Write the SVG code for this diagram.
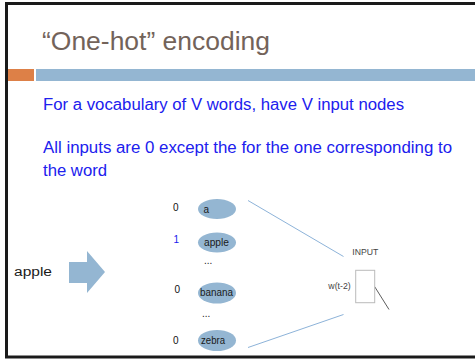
<svg xmlns="http://www.w3.org/2000/svg" width="475" height="359" viewBox="0 0 475 359">
<style>
.title{font-family:"Liberation Sans",Arial,sans-serif;font-size:26px;fill:#73635A}
.body{font-family:"Liberation Sans",Arial,sans-serif;font-size:16px;fill:#2020EE}
.lbl{font-family:"Liberation Sans",Arial,sans-serif;font-size:10px;fill:#1a1a1a}
.num{font-family:"Liberation Sans",Arial,sans-serif;font-size:10px;fill:#111}
.small{font-family:"Liberation Sans",Arial,sans-serif;font-size:9px;fill:#444}
.node{fill:#94B6D2}
.conn{stroke:#8DB3D9;stroke-width:1;fill:none}
</style>
<rect x="0" y="0" width="475" height="359" fill="#fff"/>
<rect x="6.5" y="3.5" width="480" height="353.5" fill="none" stroke="#1a1a1a" stroke-width="3"/>
<rect x="8" y="69" width="26" height="12" fill="#DD8047"/>
<rect x="36" y="69" width="440" height="12" fill="#94B6D2"/>
<text class="title" x="42" y="50" textLength="228" lengthAdjust="spacingAndGlyphs">“One-hot” encoding</text>
<text class="body" x="43" y="110" textLength="361" lengthAdjust="spacingAndGlyphs">For a vocabulary of V words, have V input nodes</text>
<text class="body" x="43" y="153" textLength="409" lengthAdjust="spacingAndGlyphs">All inputs are 0 except the for the one corresponding to</text>
<text class="body" x="43" y="176" textLength="64" lengthAdjust="spacingAndGlyphs">the word</text>
<g id="connectors">
<line class="conn" x1="248" y1="200.5" x2="343.5" y2="256.5"/>
<line class="conn" x1="248" y1="347.5" x2="343.5" y2="314.5"/>
<line x1="374.7" y1="286.7" x2="389" y2="309.5" stroke="#333" stroke-width="0.8"/>
</g>
<g id="arrow">
<polygon class="node" points="69,262 87,262 87,251 105,272 87,293 87,283 69,283"/>
</g>
<text id="apple-label" class="lbl" x="14" y="276" style="font-size:12.5px" textLength="38" lengthAdjust="spacingAndGlyphs">apple</text>
<g id="node-a">
<ellipse class="node" cx="217" cy="209" rx="19" ry="10"/>
<text class="lbl" x="203.5" y="212.5">a</text>
<text class="num" x="173" y="210.5">0</text>
</g>
<g id="node-apple">
<ellipse class="node" cx="217" cy="242.5" rx="19" ry="10"/>
<text class="lbl" x="204" y="245.5" textLength="25" lengthAdjust="spacingAndGlyphs">apple</text>
<text class="num" x="173.5" y="243" style="fill:#2020EE">1</text>
</g>
<text class="lbl" x="204" y="263.5">...</text>
<g id="node-banana">
<ellipse class="node" cx="217" cy="293" rx="19" ry="10.5"/>
<text class="lbl" x="200" y="296" textLength="33" lengthAdjust="spacingAndGlyphs">banana</text>
<text class="num" x="174.5" y="293">0</text>
</g>
<text class="lbl" x="202" y="316.5">...</text>
<g id="node-zebra">
<ellipse class="node" cx="217" cy="340.5" rx="19" ry="10.5"/>
<text class="lbl" x="201" y="343.5" textLength="24" lengthAdjust="spacingAndGlyphs">zebra</text>
<text class="num" x="173" y="343.5">0</text>
</g>
<g id="input">
<text class="small" x="352.3" y="255" textLength="26" lengthAdjust="spacingAndGlyphs">INPUT</text>
<rect x="355.7" y="270.3" width="19" height="32.4" fill="#fff" stroke="#BBBBBB" stroke-width="1"/>
<text class="small" x="328.3" y="289" textLength="22.4" lengthAdjust="spacingAndGlyphs">w(t-2)</text>
</g>
</svg>
